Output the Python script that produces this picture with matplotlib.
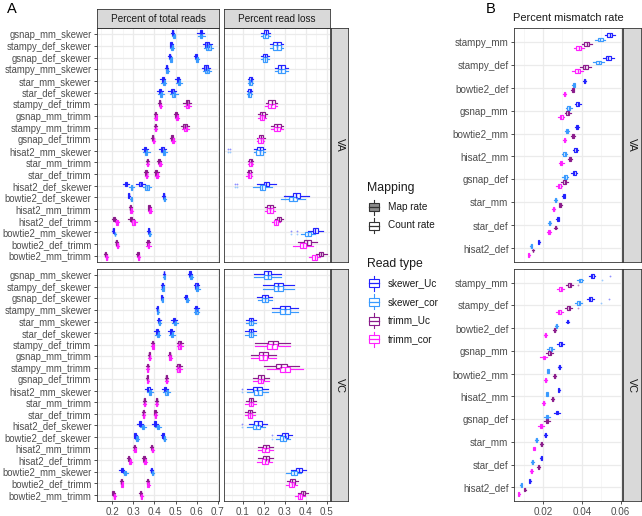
import matplotlib
matplotlib.use("Agg")
import matplotlib.pyplot as plt
import matplotlib.colors as mcolors
from matplotlib.patches import Rectangle
from matplotlib.ticker import MultipleLocator

plt.rcParams['font.family'] = ['Liberation Sans', 'DejaVu Sans']

W, H = 642, 516

# ---------------- data ----------------
cats_a = ["gsnap_mm_skewer", "stampy_def_skewer", "gsnap_def_skewer", "stampy_mm_skewer",
          "star_mm_skewer", "star_def_skewer", "stampy_def_trimm", "gsnap_mm_trimm",
          "stampy_mm_trimm", "gsnap_def_trimm", "hisat2_mm_skewer", "star_mm_trimm",
          "star_def_trimm", "hisat2_def_skewer", "bowtie2_def_skewer", "hisat2_mm_trimm",
          "hisat2_def_trimm", "bowtie2_mm_skewer", "bowtie2_def_trimm", "bowtie2_mm_trimm"]
cats_b = ["stampy_mm", "stampy_def", "bowtie2_def", "gsnap_mm", "bowtie2_mm",
          "hisat2_mm", "gsnap_def", "star_mm", "star_def", "hisat2_def"]
read_types = ["skewer_Uc", "skewer_cor", "trimm_Uc", "trimm_cor"]
type_colors = ["#2222FF", "#3A9BFF", "#8B1C8B", "#FF22FF"]
mapping_labels = ["Map rate", "Count rate"]
rows = ["VA", "VC"]
col_titles = ["Percent of total reads", "Percent read loss"]
b_title = "Percent mismatch rate"

# Percent of total reads - VA
va_cnt_uc = [0.487, 0.480, 0.473, 0.458, 0.440, 0.425, 0.425, 0.404, 0.404, 0.392,
             0.356, 0.366, 0.361, 0.266, 0.279, 0.287, 0.208, 0.205, 0.221, 0.168]
va_cnt_cor = [0.492, 0.483, 0.478, 0.460, 0.445, 0.430, 0.428, 0.407, 0.406, 0.396,
              0.362, 0.368, 0.363, 0.292, 0.290, 0.290, 0.222, 0.214, 0.226, 0.175]
va_map_uc = [0.618, 0.650, 0.595, 0.645, 0.510, 0.485, 0.555, 0.503, 0.545, 0.483,
             0.437, 0.423, 0.409, 0.335, 0.443, 0.376, 0.290, 0.373, 0.369, 0.322]
va_map_cor = [0.622, 0.655, 0.602, 0.648, 0.517, 0.492, 0.557, 0.507, 0.547, 0.487,
              0.445, 0.426, 0.412, 0.365, 0.447, 0.380, 0.302, 0.378, 0.372, 0.326]
va_cnt_iqr = [0.006, 0.008, 0.006, 0.006, 0.008, 0.010, 0.006, 0.006, 0.006, 0.006,
              0.010, 0.006, 0.008, 0.008, 0.004, 0.006, 0.008, 0.004, 0.006, 0.006]
va_cnt_wsk = [0.004, 0.004, 0.004, 0.004, 0.008, 0.010, 0.004, 0.004, 0.004, 0.004,
              0.010, 0.004, 0.004, 0.010, 0.004, 0.004, 0.006, 0.004, 0.004, 0.004]
va_map_iqr = [0.010, 0.020, 0.008, 0.018, 0.010, 0.014, 0.016, 0.008, 0.016, 0.008,
              0.012, 0.010, 0.010, 0.016, 0.006, 0.008, 0.012, 0.006, 0.008, 0.006]
va_map_wsk = [0.012, 0.010, 0.004, 0.010, 0.008, 0.012, 0.010, 0.006, 0.010, 0.004,
              0.010, 0.004, 0.006, 0.012, 0.004, 0.004, 0.008, 0.004, 0.006, 0.004]

# Percent of total reads - VC
vc_cnt_uc = [0.445, 0.438, 0.435, 0.414, 0.420, 0.412, 0.392, 0.376, 0.368, 0.367,
             0.372, 0.353, 0.348, 0.333, 0.310, 0.305, 0.278, 0.245, 0.244, 0.205]
vc_cnt_cor = [0.447, 0.440, 0.437, 0.415, 0.424, 0.416, 0.393, 0.377, 0.369, 0.369,
              0.380, 0.354, 0.349, 0.347, 0.318, 0.308, 0.285, 0.262, 0.247, 0.211]
vc_map_uc = [0.568, 0.600, 0.548, 0.597, 0.492, 0.478, 0.520, 0.472, 0.515, 0.456,
             0.450, 0.410, 0.403, 0.403, 0.440, 0.388, 0.350, 0.386, 0.368, 0.335]
vc_map_cor = [0.572, 0.602, 0.555, 0.598, 0.497, 0.484, 0.520, 0.474, 0.515, 0.458,
              0.458, 0.411, 0.404, 0.418, 0.446, 0.390, 0.356, 0.392, 0.370, 0.338]
vc_cnt_iqr = [0.004, 0.006, 0.004, 0.004, 0.006, 0.008, 0.006, 0.004, 0.006, 0.004,
              0.010, 0.006, 0.006, 0.010, 0.008, 0.006, 0.006, 0.010, 0.006, 0.006]
vc_cnt_wsk = [0.003, 0.004, 0.003, 0.003, 0.006, 0.008, 0.004, 0.003, 0.004, 0.003,
              0.010, 0.004, 0.004, 0.010, 0.004, 0.004, 0.004, 0.006, 0.004, 0.004]
vc_map_iqr = [0.008, 0.012, 0.008, 0.012, 0.010, 0.010, 0.014, 0.006, 0.014, 0.006,
              0.012, 0.006, 0.006, 0.010, 0.006, 0.006, 0.008, 0.004, 0.006, 0.006]
vc_map_wsk = [0.004, 0.006, 0.004, 0.006, 0.008, 0.008, 0.008, 0.004, 0.008, 0.004,
              0.010, 0.004, 0.004, 0.008, 0.004, 0.004, 0.006, 0.004, 0.004, 0.004]

# Percent read loss
va_loss_uc = [0.210, 0.262, 0.205, 0.284, 0.138, 0.133, 0.237, 0.194, 0.264, 0.187,
              0.182, 0.138, 0.131, 0.213, 0.355, 0.229, 0.273, 0.446, 0.407, 0.473]
va_loss_cor = [0.208, 0.262, 0.205, 0.284, 0.136, 0.131, 0.236, 0.192, 0.263, 0.185,
               0.180, 0.137, 0.130, 0.194, 0.340, 0.229, 0.257, 0.410, 0.387, 0.442]
va_loss_iqr = [0.022, 0.036, 0.020, 0.036, 0.014, 0.014, 0.032, 0.022, 0.032, 0.020,
               0.032, 0.014, 0.014, 0.028, 0.036, 0.028, 0.018, 0.028, 0.032, 0.022]
va_loss_wsk = [0.010, 0.012, 0.010, 0.012, 0.006, 0.006, 0.012, 0.010, 0.012, 0.008,
               0.010, 0.006, 0.006, 0.030, 0.040, 0.010, 0.010, 0.020, 0.030, 0.015]
vc_loss_uc = [0.218, 0.269, 0.205, 0.302, 0.139, 0.138, 0.243, 0.198, 0.284, 0.187,
              0.170, 0.139, 0.135, 0.172, 0.300, 0.210, 0.210, 0.366, 0.336, 0.387]
vc_loss_cor = [0.218, 0.269, 0.206, 0.300, 0.139, 0.138, 0.240, 0.197, 0.300, 0.186,
               0.172, 0.138, 0.134, 0.165, 0.292, 0.208, 0.205, 0.343, 0.332, 0.372]
vc_loss_iqr = [0.035, 0.045, 0.030, 0.045, 0.020, 0.020, 0.045, 0.040, 0.050, 0.025,
               0.040, 0.020, 0.020, 0.035, 0.030, 0.030, 0.030, 0.030, 0.025, 0.020]
vc_loss_wsk = [0.045, 0.050, 0.020, 0.040, 0.015, 0.015, 0.060, 0.040, 0.060, 0.025,
               0.030, 0.015, 0.015, 0.025, 0.020, 0.020, 0.020, 0.020, 0.015, 0.015]

# Percent mismatch rate (one list per read type, order of read_types)
b_va = [[0.0545, 0.0537, 0.0414, 0.0380, 0.0376, 0.0368, 0.0362, 0.0308, 0.0277, 0.0178],
        [0.0494, 0.0487, 0.0359, 0.0333, 0.0323, 0.0311, 0.0316, 0.0265, 0.0234, 0.0140],
        [0.0426, 0.0419, 0.0354, 0.0328, 0.0357, 0.0340, 0.0311, 0.0289, 0.0265, 0.0149],
        [0.0385, 0.0379, 0.0311, 0.0294, 0.0311, 0.0294, 0.0285, 0.0255, 0.0231, 0.0126]]
b_vc = [[0.0453, 0.0444, 0.0328, 0.0291, 0.0285, 0.0282, 0.0274, 0.0212, 0.0191, 0.0132],
        [0.0391, 0.0385, 0.0268, 0.0239, 0.0226, 0.0221, 0.0222, 0.0166, 0.0145, 0.0089],
        [0.0337, 0.0332, 0.0260, 0.0234, 0.0260, 0.0251, 0.0222, 0.0191, 0.0178, 0.0106],
        [0.0291, 0.0285, 0.0212, 0.0205, 0.0214, 0.0203, 0.0191, 0.0154, 0.0140, 0.0075]]
b_va_iqr = [0.0026, 0.0028, 0.0008, 0.0015, 0.0010, 0.0012, 0.0015, 0.0008, 0.0008, 0.0004]
b_va_wsk = [0.0012, 0.0015, 0.0004, 0.0008, 0.0005, 0.0006, 0.0008, 0.0004, 0.0004, 0.0003]
b_vc_iqr = [0.0015, 0.0015, 0.0006, 0.0012, 0.0006, 0.0006, 0.0012, 0.0006, 0.0005, 0.0004]
b_vc_wsk = [0.0010, 0.0010, 0.0004, 0.0012, 0.0004, 0.0004, 0.0010, 0.0004, 0.0004, 0.0003]
b_vc_outliers = {(0, 0): [0.0545], (0, 1): [0.0505], (1, 0): [0.0540], (1, 1): [0.0500],
                 (0, 2): [0.0380], (1, 2): [0.0378]}
va_loss_outliers = {10: [0.030, 0.038], 13: [0.062, 0.072], 14: [0.300], 17: [0.330, 0.360]}
vc_loss_outliers = {10: [0.095], 13: [0.095], 14: [0.240]}

# ---------------- helpers ----------------
def frect(x0, y0, x1, y1):
    return [x0 / W, 1 - y1 / H, (x1 - x0) / W, (y1 - y0) / H]

TICK_FS = 7.1
YLAB_A_FS = 6.85
GRID = "#EBEBEB"
BORDER = "#333333"


def draw_boxes(ax, meds, iqrs, wsks, pos, color, face, height, fliers=None):
    stats = []
    for k, (m, q, w) in enumerate(zip(meds, iqrs, wsks)):
        stats.append(dict(med=m, q1=m - q / 2, q3=m + q / 2,
                          whislo=m - q / 2 - w, whishi=m + q / 2 + w,
                          fliers=(fliers or {}).get(k, [])))
    kw = dict(positions=pos, widths=height, patch_artist=True, showcaps=False,
              boxprops=dict(facecolor=face, edgecolor=color, linewidth=0.85),
              medianprops=dict(color=color, linewidth=1.0),
              whiskerprops=dict(color=color, linewidth=0.85),
              flierprops=dict(marker='o', markersize=1.3, markerfacecolor=color,
                              markeredgecolor='none', alpha=0.5),
              manage_ticks=False)
    try:
        ax.bxp(stats, orientation='horizontal', **kw)
    except TypeError:
        ax.bxp(stats, vert=False, **kw)


def style(ax, xlim, major, n, exp, ylabels, xlabels, yfs=TICK_FS):
    ax.set_xlim(*xlim)
    ax.set_ylim(n - 1 + exp, -exp)
    ax.xaxis.set_major_locator(MultipleLocator(major))
    ax.xaxis.set_minor_locator(MultipleLocator(major / 2))
    ax.set_yticks(range(n))
    ax.grid(which='major', color=GRID, lw=0.9)
    ax.grid(which='minor', axis='x', color="#F3F3F3", lw=0.5)
    ax.set_axisbelow(True)
    for s in ax.spines.values():
        s.set_color(BORDER)
        s.set_linewidth(0.6)
    ax.tick_params(which='major', length=2.5, width=0.6, color=BORDER,
                   labelsize=TICK_FS, labelcolor="#4D4D4D", pad=1.5)
    ax.tick_params(which='minor', length=0)
    if ylabels is not None:
        ax.set_yticklabels(ylabels)
        ax.tick_params(axis='y', labelsize=yfs)
    else:
        ax.tick_params(axis='y', length=0, labelleft=False)
    if not xlabels:
        ax.tick_params(axis='x', length=0, labelbottom=False)


def strip(rect, text, rotation=0, fs=7.0):
    s = fig.add_axes(frect(*rect))
    s.set_facecolor("#D9D9D9")
    s.set_xticks([]); s.set_yticks([])
    for sp in s.spines.values():
        sp.set_color(BORDER); sp.set_linewidth(0.6)
    s.text(0.5, 0.5, text, transform=s.transAxes, ha='center', va='center',
           rotation=rotation, fontsize=fs, color="#1A1A1A")


fig = plt.figure(figsize=(W / 100, H / 100), dpi=100)

row_y = [(28, 262), (269, 501)]
col1_x = (97, 219)
col2_x = (224, 330)
b_x = (514, 622)
OFF_A = 0.14
H_A = 0.40
OFF_B = [-0.29, -0.097, 0.097, 0.29]
H_B = 0.17

cnt_data = [(va_cnt_uc, va_cnt_cor, va_cnt_iqr, va_cnt_wsk),
            (vc_cnt_uc, vc_cnt_cor, vc_cnt_iqr, vc_cnt_wsk)]
map_data = [(va_map_uc, va_map_cor, va_map_iqr, va_map_wsk),
            (vc_map_uc, vc_map_cor, vc_map_iqr, vc_map_wsk)]
loss_data = [(va_loss_uc, va_loss_cor, va_loss_iqr, va_loss_wsk, va_loss_outliers),
             (vc_loss_uc, vc_loss_cor, vc_loss_iqr, vc_loss_wsk, vc_loss_outliers)]
b_data = [(b_va, b_va_iqr, b_va_wsk, {}), (b_vc, b_vc_iqr, b_vc_wsk, b_vc_outliers)]

nA = len(cats_a)
groups = [("skewer", 0, 1), ("trimm", 2, 3)]


def sub(lst, idx):
    return [lst[i] for i in idx]


for r, (y0, y1) in enumerate(row_y):
    last = (r == len(row_y) - 1)
    ax1 = fig.add_axes(frect(col1_x[0], y0, col1_x[1], y1))
    style(ax1, (0.129, 0.705), 0.1, nA, 0.55, cats_a, last, yfs=YLAB_A_FS)
    ax2 = fig.add_axes(frect(col2_x[0], y0, col2_x[1], y1))
    style(ax2, (0.011, 0.515), 0.1, nA, 0.55, None, last)
    for grp, iu, ic in groups:
        idx = [i for i, c in enumerate(cats_a) if c.endswith(grp)]
        for ti, off, pick in ((iu, -OFF_A, 0), (ic, OFF_A, 1)):
            col = type_colors[ti]
            pos = [i + off for i in idx]
            md = map_data[r]
            draw_boxes(ax1, sub(md[pick], idx), sub(md[2], idx), sub(md[3], idx), pos,
                       col, mcolors.to_rgba(col, 0.4), H_A)
            cd = cnt_data[r]
            draw_boxes(ax1, sub(cd[pick], idx), sub(cd[2], idx), sub(cd[3], idx), pos,
                       col, "white", H_A)
            ld = loss_data[r]
            fl = {k: ld[4][i] for k, i in enumerate(idx) if i in ld[4]}
            draw_boxes(ax2, sub(ld[pick], idx), sub(ld[2], idx), sub(ld[3], idx), pos,
                       col, "white", H_A, fl)
    strip((331, y0, 348, y1), rows[r], rotation=-90, fs=7.8)

    axb = fig.add_axes(frect(b_x[0], y0, b_x[1], y1))
    nB = len(cats_b)
    style(axb, (0.0051, 0.0607), 0.02, nB, 0.6, cats_b, last)
    axb.xaxis.set_minor_locator(MultipleLocator(0.01))
    axb.set_xticks([0.02, 0.04, 0.06])
    axb.set_xticklabels(["0.02", "0.04", "0.06"] if last else [])
    vals, iqr, wsk, outl = b_data[r]
    for ti in range(4):
        fl = {k: v for (k, t), v in outl.items() if t == ti}
        draw_boxes(axb, vals[ti], iqr, wsk, [i + OFF_B[ti] for i in range(nB)],
                   type_colors[ti], "white", H_B, fl)
    strip((623, y0, 641, y1), rows[r], rotation=-90, fs=7.8)

strip((col1_x[0], 9, col1_x[1], 28), col_titles[0], fs=7.2)
strip((col2_x[0], 9, col2_x[1], 28), col_titles[1], fs=7.2)
fig.text((b_x[0] + b_x[1]) / 2 / W, 1 - 18 / H, b_title, ha='center', va='center',
         fontsize=7.9, color="#1A1A1A")

fig.text(7 / W, 1 - 9 / H, "A", ha='left', va='center', fontsize=10.5)
fig.text(486 / W, 1 - 9 / H, "B", ha='left', va='center', fontsize=10.5)

# ---------------- legend ----------------
lg = fig.add_axes([0, 0, 1, 1])
lg.set_xlim(0, W)
lg.set_ylim(H, 0)
lg.axis('off')
lg.patch.set_alpha(0)


def key(ax, cx, cy, edge, face):
    ax.add_patch(Rectangle((cx - 5, cy - 4), 10, 8, facecolor=face, edgecolor=edge, lw=0.8))
    ax.plot([cx - 5, cx + 5], [cy, cy], color=edge, lw=0.9)
    ax.plot([cx, cx], [cy - 7.5, cy - 4], color=edge, lw=0.8)
    ax.plot([cx, cx], [cy + 4, cy + 7.5], color=edge, lw=0.8)


lg.text(367, 188, "Mapping", fontsize=8.8, va='center', ha='left', color="#1A1A1A")
map_faces = ["#8C8C8C", "white"]
for k, lab in enumerate(mapping_labels):
    cy = 207 + k * 18.5
    key(lg, 374, cy, "#333333", map_faces[k])
    lg.text(388, cy, lab, fontsize=7.2, va='center', ha='left', color="#1A1A1A")

lg.text(367, 264, "Read type", fontsize=8.8, va='center', ha='left', color="#1A1A1A")
for k, lab in enumerate(read_types):
    cy = 283 + k * 18.8
    key(lg, 374, cy, type_colors[k], "white")
    lg.text(388, cy, lab, fontsize=7.2, va='center', ha='left', color="#1A1A1A")

fig.savefig("out.png", dpi=100)
